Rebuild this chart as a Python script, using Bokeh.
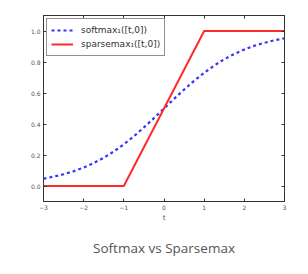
from bokeh.plotting import figure
from bokeh.models import Title, LinearAxis, FixedTicker, Range1d
from bokeh.embed import file_html
from bokeh.resources import INLINE

# data
t_soft = [-3.0, -2.75, -2.5, -2.25, -2.0, -1.75, -1.5, -1.25, -1.0, -0.75, -0.5, -0.25,
          0.0, 0.25, 0.5, 0.75, 1.0, 1.25, 1.5, 1.75, 2.0, 2.25, 2.5, 2.75, 3.0]
softmax = [0.047, 0.060, 0.076, 0.095, 0.119, 0.148, 0.182, 0.223, 0.269, 0.321, 0.378, 0.438,
           0.500, 0.562, 0.622, 0.679, 0.731, 0.777, 0.818, 0.852, 0.881, 0.905, 0.924, 0.940, 0.953]
t_sparse = [-3.0, -1.0, 1.0, 3.0]
sparsemax = [0.0, 0.0, 1.0, 1.0]
x_ticks = [-3, -2, -1, 0, 1, 2, 3]
x_tick_labels = ["\u22123", "\u22122", "\u22121", "0", "1", "2", "3"]
y_ticks = [0.0, 0.2, 0.4, 0.6, 0.8, 1.0]
y_tick_labels = ["0.0", "0.2", "0.4", "0.6", "0.8", "1.0"]
title_text = "Softmax vs Sparsemax"
x_label = "t"
soft_label = "softmax\u2081([t,0])"
sparse_label = "sparsemax\u2081([t,0])"

p = figure(width=308, height=274, output_backend="svg", toolbar_location=None,
           x_range=Range1d(-3, 3), y_range=Range1d(-0.1, 1.1),
           min_border_left=43, min_border_right=24, min_border_top=15, min_border_bottom=73)
p.background_fill_color = "white"
p.border_fill_color = "white"
p.outline_line_color = "#333333"
p.outline_line_width = 1
p.grid.visible = False

p.line(t_soft, softmax, line_color="#3333ff", line_width=2.2, line_dash="3 3", legend_label=soft_label)
p.line(t_sparse, sparsemax, line_color="#ff2a2a", line_width=2, legend_label=sparse_label)

tick_font = "6px"
for ax, ticks, labels in ((p.xaxis[0], x_ticks, x_tick_labels), (p.yaxis[0], y_ticks, y_tick_labels)):
    ax.ticker = FixedTicker(ticks=ticks)
    ax.major_label_overrides = {tk: lb for tk, lb in zip(ticks, labels)}
    ax.major_label_text_font = "DejaVu Sans"
    ax.major_label_text_font_size = tick_font
    ax.major_label_text_color = "#555555"
    ax.major_tick_in = 3
    ax.major_tick_out = 0
    ax.minor_tick_line_color = None
    ax.axis_line_color = "#333333"
    ax.major_tick_line_color = "#333333"
    ax.major_label_standoff = 3

p.xaxis[0].axis_label = x_label
p.xaxis[0].axis_label_text_font = "DejaVu Sans"
p.xaxis[0].axis_label_text_font_size = "7px"
p.xaxis[0].axis_label_text_font_style = "normal"
p.xaxis[0].axis_label_text_color = "#555555"
p.xaxis[0].axis_label_standoff = 1

top = LinearAxis(ticker=FixedTicker(ticks=x_ticks), major_label_overrides={tk: "" for tk in x_ticks},
                 major_tick_in=3, major_tick_out=0, minor_tick_line_color=None,
                 axis_line_color="#333333", major_tick_line_color="#333333")
right = LinearAxis(ticker=FixedTicker(ticks=y_ticks), major_label_overrides={tk: "" for tk in y_ticks},
                   major_tick_in=3, major_tick_out=0, minor_tick_line_color=None,
                   axis_line_color="#333333", major_tick_line_color="#333333")
p.add_layout(top, "above")
p.add_layout(right, "right")

lg = p.legend[0]
lg.location = "top_left"
lg.margin = 3
lg.padding = 4
lg.spacing = 0
lg.label_text_font = "DejaVu Sans"
lg.label_text_font_size = "9px"
lg.label_text_color = "#333333"
lg.label_height = 14
lg.glyph_height = 14
lg.glyph_width = 22
lg.label_standoff = 8
lg.border_line_color = "#222222"
lg.border_line_width = 1
lg.background_fill_alpha = 1

p.add_layout(Title(text=title_text, align="center", text_font="Open Sans", text_font_size="13.5px",
                   text_color="#555555", text_font_style="normal", standoff=24), "below")

open("out.html", "w").write(file_html(p, INLINE))
